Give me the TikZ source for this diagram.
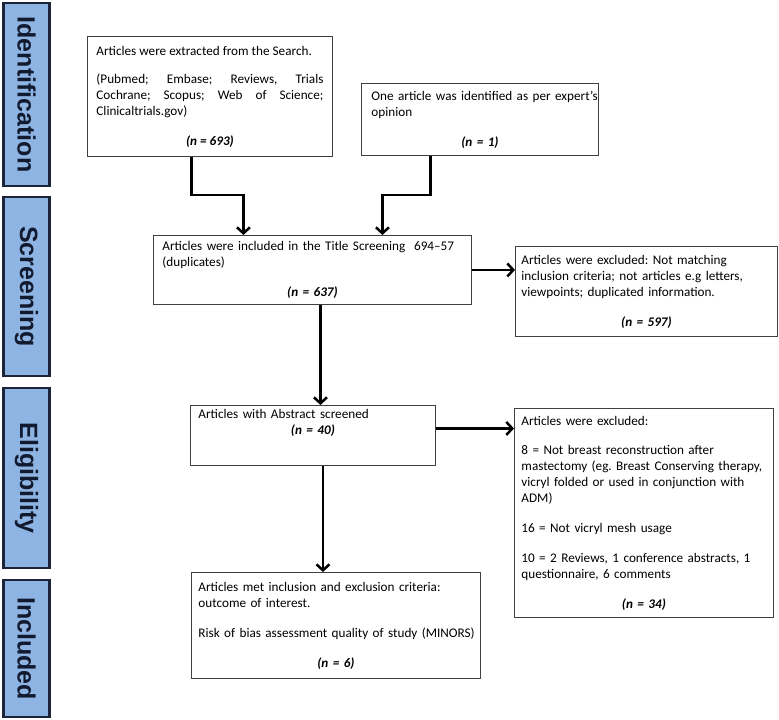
\documentclass[tikz,border=0pt]{standalone}
\usepackage{fontspec}
\setmainfont{Carlito}
\newfontfamily\arialfont{Liberation Sans}
\usepackage{tikz}
\usetikzlibrary{positioning, calc, arrows.meta, shadows}
\definecolor{phaseFill}{RGB}{141, 180, 226}
\definecolor{phaseEdge}{RGB}{28, 36, 58}
\definecolor{phaseText}{RGB}{18, 26, 48}
\newcommand{\ncount}[1]{\hspace*{\fill}{\bfseries\itshape (n = #1)}\hspace*{\fill}\mbox{}}
\frenchspacing
\hyphenpenalty=10000
\exhyphenpenalty=10000
\tikzset{
  phase/.style={rectangle, draw=phaseEdge, fill=phaseFill, line width=2.4pt,
                minimum height=46pt, rotate=-90, text=phaseText,
                font=\arialfont\bfseries\fontsize{25}{25}\selectfont},
  recbox/.style={rectangle, draw=black!75, fill=white, line width=0.9pt,
                 anchor=north west, align=left, inner xsep=8pt, inner ysep=0pt,
                 font=\fontsize{13.2}{16}\selectfont,
                 drop shadow={opacity=0.25, shadow xshift=1pt, shadow yshift=-1pt}},
}

\begin{document}
\begin{tikzpicture}[
    x=1pt, y=-1pt,
    flow/.style={line width=2.5pt, -{Straight Barb[length=6pt, width=13pt]}},
  ]
    \useasboundingbox (0,0) rectangle (779,720);

    % phase bars
    \node[phase, minimum width=183pt] (ident)  at (26.5,94.5)  {Identification};
    \node[phase, minimum width=179pt] (screen) at (26.5,286.5) {Screening};
    \node[phase, minimum width=180pt] (elig)   at (26.5,478)   {Eligibility};
    \node[phase, minimum width=137pt] (incl)   at (26.5,648.5) {Included};

    % records
    \node[recbox, align=justify, minimum width=245pt, minimum height=120pt, text width=227pt, inner xsep=9pt]
         (search) at (87,36)
         {Articles were extracted from the Search.\\[12pt]
          (Pubmed; Embase; Reviews, Trials\linebreak
          Cochrane; Scopus; Web of Science;\linebreak
          Clinicaltrials.gov)\\[14pt]
          \ncount{693}};
    \node[recbox, minimum width=237pt, minimum height=72pt, text width=217pt, inner xsep=10pt]
         (expert) at (361,83)
         {\mbox{One article was identified as per expert’s}\\
          opinion\\[14pt]
          \ncount{1}};
    \node[recbox, minimum width=318pt, minimum height=69pt, text width=300pt, inner xsep=9pt]
         (title) at (153,235)
         {Articles were included in the Title Screening\ \ 694–57\\
          (duplicates)\\[14pt]
          \ncount{637}};
    \node[recbox, minimum width=262pt, minimum height=90pt, text width=250pt, inner xsep=6pt]
         (exclA) at (515,246)
         {Articles were excluded: Not matching\\
          inclusion criteria; not articles e.g letters,\\
          viewpoints; duplicated information.\\[14pt]
          \ncount{597}};
    \node[recbox, minimum width=245pt, minimum height=60pt, text width=229pt]
         (abstract) at (190,405)
         {Articles with Abstract screened\\
          \ncount{40}\\[12pt]\mbox{}};
    \node[recbox, minimum width=259pt, minimum height=209pt, text width=245pt, inner xsep=7pt]
         (exclB) at (514,408)
         {Articles were excluded:\\[13pt]
          8 = Not breast reconstruction after\\
          \mbox{mastectomy (eg. Breast Conserving therapy,}\\
          vicryl folded or used in conjunction with\\
          ADM)\\[14pt]
          16 = Not vicryl mesh usage\\[14pt]
          \mbox{10 = 2 Reviews, 1 conference abstracts, 1}\\
          questionnaire, 6 comments\\[14pt]
          \ncount{34}};
    \node[recbox, minimum width=289pt, minimum height=106pt, text width=275pt, inner xsep=7pt]
         (final) at (191,572)
         {Articles met inclusion and exclusion criteria:\\
          outcome of interest.\\[14pt]
          \mbox{Risk of bias assessment quality of study (MINORS)}\\[14pt]
          \ncount{6}};

    % connectors
    \draw[flow] ([xshift=-18.5pt]search.south) -- ++(0,38) -| ([xshift=-69pt]title.north);
    \draw[flow] ([xshift=-49.5pt]expert.south) -- ++(0,39) -| ([xshift=70pt]title.north);
    \draw[flow] (title.east) -- (title.east -| exclA.west);
    \draw[flow] ([xshift=8pt]title.south) -- ([xshift=8pt]title.south |- abstract.north);
    \draw[flow] ([yshift=7pt]abstract.east) -- ([yshift=7pt]abstract.east -| exclB.west);
    \draw[flow] ([xshift=10pt]abstract.south) -- ([xshift=10pt]abstract.south |- final.north);
  \end{tikzpicture}
\end{document}
